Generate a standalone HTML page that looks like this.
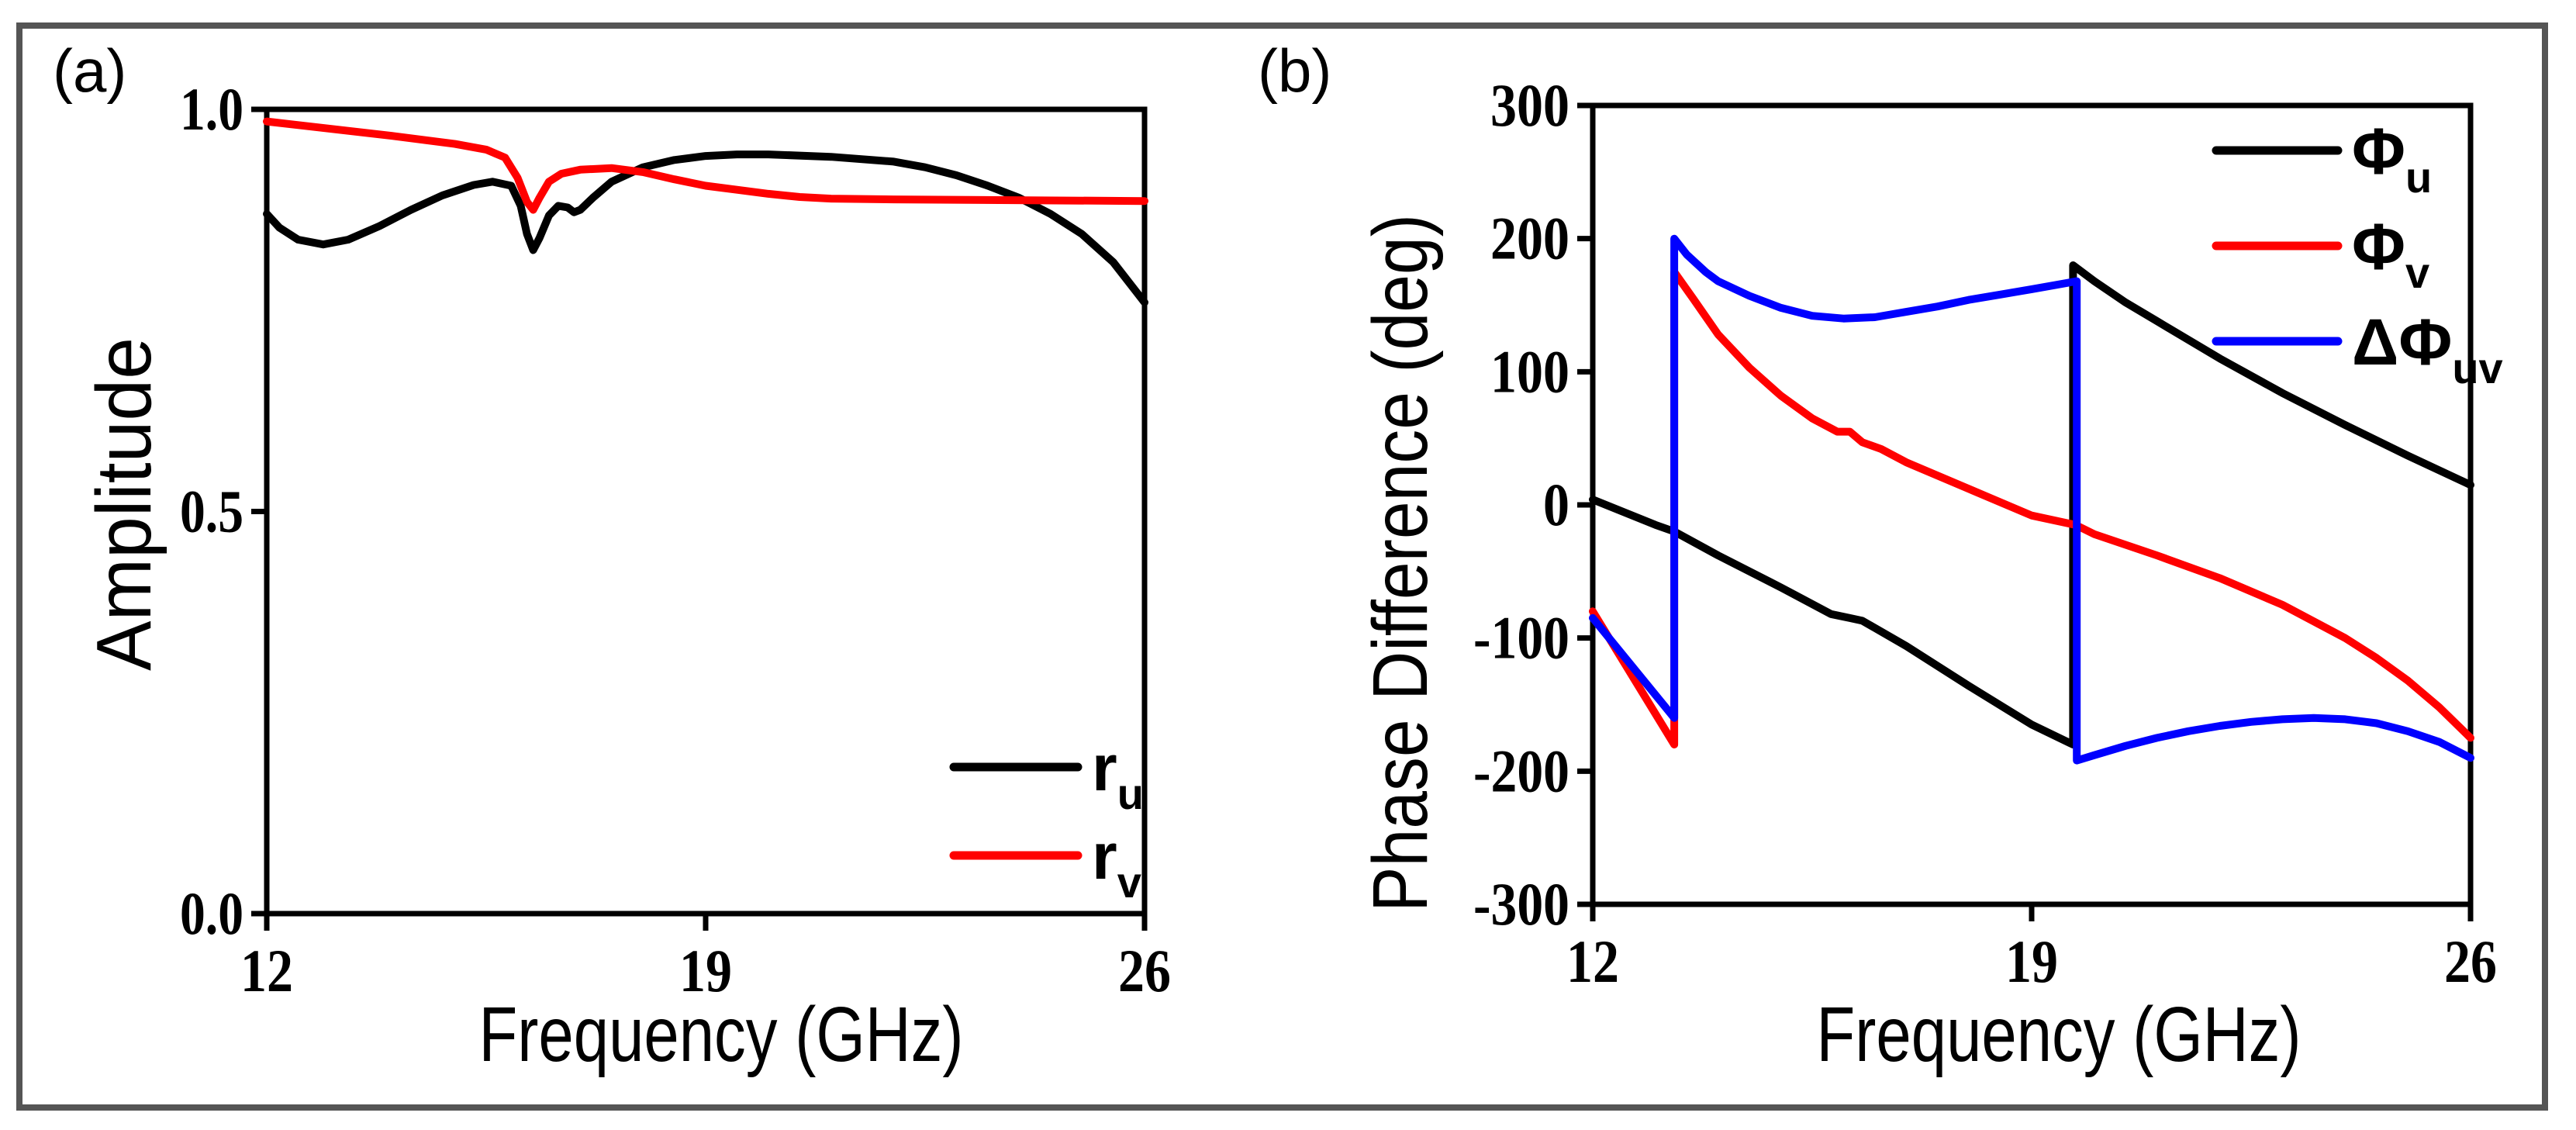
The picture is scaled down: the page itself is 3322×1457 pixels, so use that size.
<!DOCTYPE html>
<html><head><meta charset="utf-8"><style>
html,body{margin:0;padding:0;background:#fff}
svg{display:block}
.tick{font-family:"Liberation Serif",serif;font-weight:bold;font-size:78px;fill:#000}
.title{font-family:"Liberation Sans",sans-serif;font-size:100px;fill:#000}
.leg{font-family:"Liberation Sans",sans-serif;font-weight:bold;font-size:84px;fill:#000}
.sub{font-size:56px}
</style></head><body>
<svg id="fig" width="3322" height="1457" viewBox="0 0 3322 1457" xmlns="http://www.w3.org/2000/svg">
<rect x="25" y="33" width="3257" height="1395" fill="#fff" stroke="#555" stroke-width="8"/>
<text x="68" y="118" class="title" style="font-size:78px">(a)</text>
<text x="1622" y="118" class="title" style="font-size:78px">(b)</text>
<g id="pa"></g>
<g id="pb"></g>
</svg>
<script>
const freqTicks=[12,19,26];
const ampTicks=[0.0,0.5,1.0];
const ampTickLabels=["0.0","0.5","1.0"];
const phaseTicks=[-300,-200,-100,0,100,200,300];
const phaseTickLabels=["-300","-200","-100","0","100","200","300"];
const ruFreq=[12,12.2,12.5,12.9,13.3,13.8,14.3,14.8,15.3,15.6,15.9,16.05,16.15,16.25,16.35,16.5,16.65,16.8,16.9,17.0,17.2,17.5,18,18.5,19,19.5,20,21,22,22.5,23,23.5,24,24.5,25,25.5,26];
const ruVal=[0.87,0.853,0.838,0.832,0.838,0.855,0.875,0.893,0.906,0.91,0.905,0.88,0.845,0.825,0.84,0.868,0.88,0.878,0.872,0.875,0.89,0.91,0.928,0.937,0.942,0.944,0.944,0.941,0.935,0.928,0.918,0.905,0.89,0.87,0.845,0.81,0.76];
const rvFreq=[12,14,15,15.5,15.8,16.0,16.15,16.25,16.35,16.5,16.7,17,17.5,18,18.5,19,19.5,20,20.5,21,22,26];
const rvVal=[0.985,0.967,0.957,0.95,0.94,0.915,0.885,0.875,0.89,0.91,0.92,0.925,0.927,0.922,0.913,0.905,0.9,0.895,0.891,0.889,0.888,0.886];
const puFreq=[12,13,13.3,14,15,15.8,16.1,16.3,17,18,19,19.66,19.66,20,20.5,21,22,23,24,25,26];
const puVal=[4,-15,-20,-38,-62,-82,-85,-87,-106,-136,-165,-180,180,168,152,138,110,84,60,37,15];
const pvFreq=[12,13.3,13.3,13.6,14,14.5,15,15.5,15.9,16.1,16.3,16.6,17,18,19,19.7,20,21,22,23,24,24.5,25,25.5,26];
const pvVal=[-80,-180,175,155,128,103,82,65,55,55,47,42,32,12,-8,-15,-22,-38,-55,-75,-100,-115,-132,-152,-175];
const dpFreq=[12,13.3,13.3,13.5,13.8,14,14.5,15,15.5,16,16.5,17,17.5,18,18.5,19,19.72,19.72,20,20.5,21,21.5,22,22.5,23,23.5,24,24.5,25,25.5,26];
const dpVal=[-85,-160,200,188,175,168,157,148,142,140,141,145,149,154,158,162,168,-192,-188,-181,-175,-170,-166,-163,-161,-160,-161,-164,-170,-178,-190];

const NS="http://www.w3.org/2000/svg";
function mk(parent,tag,attrs){const e=document.createElementNS(NS,tag);for(const k in attrs)e.setAttribute(k,attrs[k]);parent.appendChild(e);return e;}
function tw(s){let w=0;for(const c of s){w+=(c==='.')?14:(c==='-')?22:34;}return w;}

function axes(g,L,R,T,B,ymin,ymax,yt,ytl,prefix){
  const sx=f=>L+(f-12)/(26-12)*(R-L);
  const sy=v=>B-(v-ymin)/(ymax-ymin)*(B-T);
  const box=mk(g,'rect',{x:L,y:T,width:R-L,height:B-T,fill:'none',stroke:'#000','stroke-width':7});
  
  
  freqTicks.forEach(f=>{
    const t=mk(g,'line',{x1:sx(f),x2:sx(f),y1:B,y2:B+22,stroke:'#000','stroke-width':7});
    
    
    const s=String(f);
    const l=mk(g,'text',{x:sx(f),y:B+100,'text-anchor':'middle',class:'tick',textLength:tw(s),lengthAdjust:'spacingAndGlyphs'});
    l.textContent=s;
    
    
  });
  yt.forEach((v,i)=>{
    const t=mk(g,'line',{x1:L-20,x2:L,y1:sy(v),y2:sy(v),stroke:'#000','stroke-width':7});
    
    
    const l=mk(g,'text',{x:L-30,y:sy(v)+26,'text-anchor':'end',class:'tick',textLength:tw(ytl[i]),lengthAdjust:'spacingAndGlyphs'});
    l.textContent=ytl[i];
    
    
  });
  return {sx,sy};
}
function series(g,sc,xs,ys,color,name){
  const pts=xs.map((f,i)=>sc.sx(f).toFixed(1)+','+sc.sy(ys[i]).toFixed(1)).join(' ');
  const p=mk(g,'polyline',{points:pts,fill:'none',stroke:color,'stroke-width':10,'stroke-linejoin':'round','stroke-linecap':'round'});
  
  
}
function legend(g,x1,x2,y,color,main,sub,name){
  const l=mk(g,'line',{x1:x1,x2:x2,y1:y,y2:y,stroke:color,'stroke-width':11,'stroke-linecap':'round'});
  
  
  const t=mk(g,'text',{x:x2+18,y:y+30,class:'leg'});
  
  
  t.appendChild(document.createTextNode(main));
  const s=mk(t,'tspan',{class:'sub',dy:24});
  s.textContent=sub;
}

// Panel a
const ga=document.getElementById('pa');
const sa=axes(ga,344,1476,141,1178,0,1,ampTicks,ampTickLabels,'amplitude');
series(ga,sa,ruFreq,ruVal,'#000','series-ru');
series(ga,sa,rvFreq,rvVal,'#f00','series-rv');
legend(ga,1230,1390,989,'#000','r','u','legend-ru');
legend(ga,1230,1390,1103,'#f00','r','v','legend-rv');
let xt=mk(ga,'text',{x:930,y:1368,'text-anchor':'middle',class:'title',textLength:625,lengthAdjust:'spacingAndGlyphs'});
xt.textContent='Frequency (GHz)';


let yt=mk(ga,'text',{x:0,y:0,'text-anchor':'middle',class:'title',textLength:430,lengthAdjust:'spacingAndGlyphs',transform:'translate(194,650) rotate(-90)'});
yt.textContent='Amplitude';



// Panel b
const gb=document.getElementById('pb');
const sb=axes(gb,2054,3186,136,1166,-300,300,phaseTicks,phaseTickLabels,'phase');
series(gb,sb,puFreq,puVal,'#000','series-phi-u');
series(gb,sb,pvFreq,pvVal,'#f00','series-phi-v');
series(gb,sb,dpFreq,dpVal,'#00f','series-delta-phi-uv');
legend(gb,2858,3015,194,'#000','\u03A6','u','legend-phi-u');
legend(gb,2858,3015,317,'#f00','\u03A6','v','legend-phi-v');
legend(gb,2858,3015,440,'#00f','\u0394\u03A6','uv','legend-delta-phi-uv');
xt=mk(gb,'text',{x:2655,y:1368,'text-anchor':'middle',class:'title',textLength:625,lengthAdjust:'spacingAndGlyphs'});
xt.textContent='Frequency (GHz)';


yt=mk(gb,'text',{x:0,y:0,'text-anchor':'middle',class:'title',textLength:900,lengthAdjust:'spacingAndGlyphs',transform:'translate(1840,726) rotate(-90)'});
yt.textContent='Phase Difference (deg)';


</script>
</body></html>
